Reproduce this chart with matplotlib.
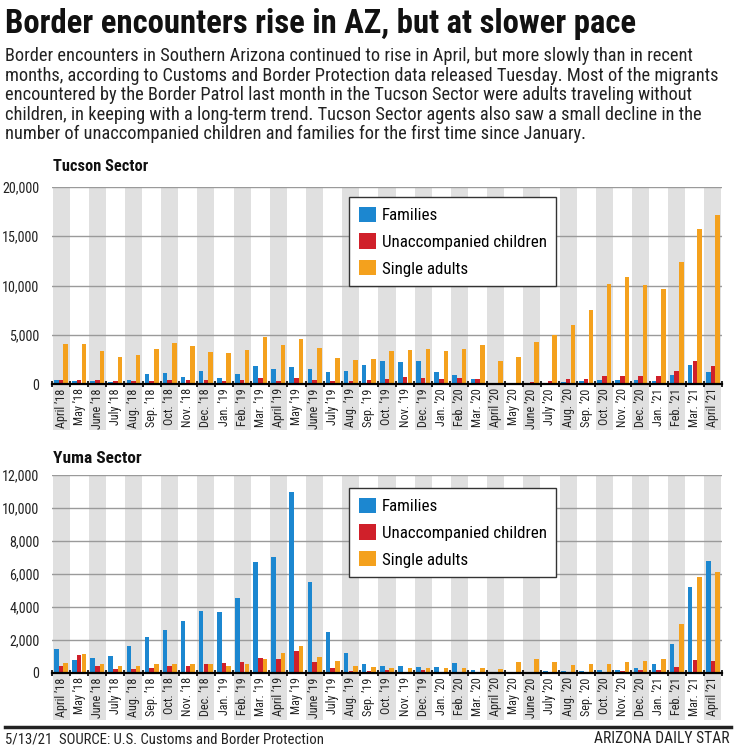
import numpy as np
import matplotlib
matplotlib.use("Agg")
import matplotlib.pyplot as plt
from matplotlib import font_manager
from matplotlib.patches import Patch, Rectangle
import matplotlib.transforms as mtransforms

# pick the narrowest sans that is around, sizes are fitted to the reference widths below
installed = {f.name for f in font_manager.fontManager.ttflist}
family = 'Roboto'
for name in ['Roboto Condensed', 'Liberation Sans Narrow', 'Noto Sans Condensed',
             'Open Sans Condensed', 'DejaVu Sans Condensed']:
    if name in installed:
        family = name
        break
plt.rcParams['font.family'] = [family, 'DejaVu Sans']
plt.rcParams['font.stretch'] = 'condensed'

months = ["April ’18", "May ’18", "June ’18", "July ’18", "Aug. ’18", "Sep. ’18",
          "Oct. ’18", "Nov. ’18", "Dec. ’18", "Jan. ’19", "Feb. ’19", "Mar. ’19",
          "April ’19", "May ’19", "June ’19", "July ’19", "Aug. ’19", "Sep. ’19",
          "Oct. ’19", "Nov. ’19", "Dec. ’19", "Jan. ’20", "Feb. ’20", "Mar. ’20",
          "April ’20", "May ’20", "June ’20", "July ’20", "Aug. ’20", "Sep. ’20",
          "Oct. ’20", "Nov. ’20", "Dec. ’20", "Jan. ’21", "Feb. ’21", "Mar. ’21",
          "April ’21"]

# Tucson Sector
tucson_families = [400, 300, 350, 200, 400, 1000, 1100, 700, 1300, 600, 1000, 1800,
                   1500, 1700, 1500, 1200, 1300, 1900, 2300, 2200, 2300, 1200, 900, 500,
                   50, 100, 100, 100, 200, 300, 400, 400, 400, 300, 900, 1900, 1200]
tucson_children = [400, 400, 450, 300, 300, 300, 400, 400, 400, 300, 400, 600,
                   300, 600, 400, 300, 300, 400, 500, 700, 600, 500, 600, 500,
                   100, 100, 200, 300, 500, 500, 800, 800, 800, 800, 1300, 2350, 1800]
tucson_adults = [4100, 4100, 3400, 2700, 2900, 3600, 4200, 3900, 3200, 3100, 3500, 4800,
                 4000, 4600, 3700, 2600, 2400, 2550, 3400, 3500, 3600, 3400, 3600, 4000,
                 2350, 2750, 4300, 5000, 6000, 7550, 10200, 10900, 10100, 9600, 12350, 15700, 17200]

# Yuma Sector
yuma_families = [1440, 760, 890, 1010, 1630, 2190, 2620, 3180, 3730, 3670, 4540, 6740,
                 7040, 10970, 5530, 2490, 1200, 540, 420, 420, 360, 360, 600, 180,
                 60, 60, 60, 120, 120, 120, 180, 180, 300, 540, 1750, 5200, 6770]
yuma_children = [400, 1070, 450, 270, 270, 330, 400, 450, 520, 580, 640, 890,
                 870, 1320, 640, 330, 150, 140, 180, 60, 180, 60, 60, 60,
                 20, 0, 0, 0, 60, 60, 60, 120, 180, 180, 360, 790, 730]
yuma_adults = [580, 1130, 520, 450, 400, 520, 520, 520, 520, 450, 520, 820,
               1200, 1630, 950, 700, 450, 360, 280, 300, 300, 280, 300, 300,
               240, 670, 850, 670, 480, 540, 540, 670, 730, 850, 2960, 5810, 6110]

series_names = ["Families", "Unaccompanied children", "Single adults"]
colors = ['#1c87d0', '#d0202a', '#f4a11d']
stripe = '#e0e0e0'

intro = ["Border encounters in Southern Arizona continued to rise in April, but more slowly than in recent",
         "months, according to Customs and Border Protection data released Tuesday. Most of the migrants",
         "encountered by the Border Patrol last month in the Tucson Sector were adults traveling without",
         "children, in keeping with a long-term trend. Tucson Sector agents also saw a small decline in the",
         "number of unaccompanied children and families for the first time since January."]

fig = plt.figure(figsize=(7.34, 7.5), dpi=100)
W, H = 734, 750
renderer = fig.canvas.get_renderer()


def fx(px):
    return px / W


def fy(py):
    return 1 - py / H


def size_for(text, target, weight='normal'):
    """font size (pt) that makes text about target px wide"""
    t = fig.text(0, 0, text, fontsize=10, fontweight=weight)
    w = t.get_window_extent(renderer).width
    h = t.get_window_extent(renderer).height
    t.remove()
    return 10 * target / w, h * target / w


tick_fs = size_for("April ’18", 39)[0]
ytick_fs = size_for("20,000", 37)[0]
leg_fs, leg_h = size_for("Unaccompanied children", 164)


def sector(ax, values, ymax, step, leg_top):
    x = np.arange(len(months))
    ax.set_xlim(-0.5, len(months) - 0.5)
    ax.set_ylim(0, ymax)
    trans = mtransforms.blended_transform_factory(ax.transData, ax.transAxes)
    for i in range(0, len(months), 2):
        ax.add_patch(Rectangle((i - 0.47, -0.235), 0.94, 1.235, transform=trans,
                               facecolor=stripe, edgecolor='none', zorder=0,
                               clip_on=False))
    for v in np.arange(step, ymax + 1, step):
        ax.axhline(v, color='#9a9a9a', lw=1.0, zorder=1)
    offs = [-0.26, 0.0, 0.26]
    for vals, off, c in zip(values, offs, colors):
        ax.bar(x + off, vals, width=0.25, color=c, zorder=3, linewidth=0)
    for s in ['top', 'right', 'left']:
        ax.spines[s].set_visible(False)
    ax.spines['bottom'].set_color('black')
    ax.spines['bottom'].set_linewidth(1.6)
    ax.spines['bottom'].set_zorder(4)
    ax.set_facecolor('none')
    ax.set_yticks(np.arange(0, ymax + 1, step))
    ax.set_yticklabels([f"{int(v):,}" for v in np.arange(0, ymax + 1, step)],
                       fontsize=ytick_fs, color='#222222')
    ax.tick_params(axis='y', length=0, pad=9)
    ax.set_xticks(x)
    ax.set_xticklabels(months, rotation=90, fontsize=tick_fs, color='#222222',
                       va='top', ha='center')
    ax.tick_params(axis='x', length=0, pad=3)
    ax.set_xticks(np.arange(-0.5, len(months), 1.0), minor=True)
    ax.tick_params(axis='x', which='minor', length=4, width=1.2, direction='inout',
                   color='black')

    fs_px = leg_fs * 100 / 72
    entry = max(17, leg_h)
    handles = [Patch(facecolor=c, edgecolor='none') for c in colors]
    leg = ax.legend(handles, series_names, loc='upper left',
                    bbox_to_anchor=(fx(349), fy(leg_top)),
                    bbox_transform=fig.transFigure, fontsize=leg_fs,
                    frameon=True, fancybox=False, edgecolor='#333333',
                    framealpha=1, handlelength=17 / fs_px, handleheight=17 / fs_px,
                    handletextpad=6 / fs_px,
                    labelspacing=max(0.05, (27.5 - entry) / fs_px),
                    borderpad=9.5 / fs_px, borderaxespad=0)
    leg.get_frame().set_linewidth(1.0)
    leg.set_zorder(5)


ax1 = fig.add_axes([fx(52), fy(384), fx(722) - fx(52), fy(187) - fy(384)])
sector(ax1, [tucson_families, tucson_children, tucson_adults], 20000, 5000, 197)

ax2 = fig.add_axes([fx(52), fy(673), fx(722) - fx(52), fy(475) - fy(673)])
sector(ax2, [yuma_families, yuma_children, yuma_adults], 12000, 2000, 488)

title = "Border encounters rise in AZ, but at slower pace"
fig.text(fx(5), fy(33), title, fontsize=size_for(title, 632, 'bold')[0],
         fontweight='bold', va='baseline', ha='left', color='#111111')

intro_fs = size_for(intro[1], 708)[0]
for k, line in enumerate(intro):
    fig.text(fx(5), fy(61 + 19.6 * k), line, fontsize=intro_fs, va='baseline',
             ha='left', color='#222222')

fig.text(fx(53), fy(171), "Tucson Sector", fontsize=size_for("Tucson Sector", 95, 'bold')[0],
         fontweight='bold', va='baseline', ha='left', color='#111111')
fig.text(fx(53), fy(463), "Yuma Sector", fontsize=size_for("Yuma Sector", 88, 'bold')[0],
         fontweight='bold', va='baseline', ha='left', color='#111111')

fig.add_artist(plt.Line2D([fx(5), fx(731)], [fy(727), fy(727)], color='#222222',
                          lw=2.5, transform=fig.transFigure))
source = "5/13/21  SOURCE: U.S. Customs and Border Protection"
fig.text(fx(5), fy(743), source, fontsize=size_for(source, 318)[0],
         va='baseline', ha='left', color='#222222')
fig.text(fx(729), fy(743), "ARIZONA DAILY STAR",
         fontsize=size_for("ARIZONA DAILY STAR", 135)[0], va='baseline',
         ha='right', color='#222222')

fig.savefig("out.png", dpi=100)
